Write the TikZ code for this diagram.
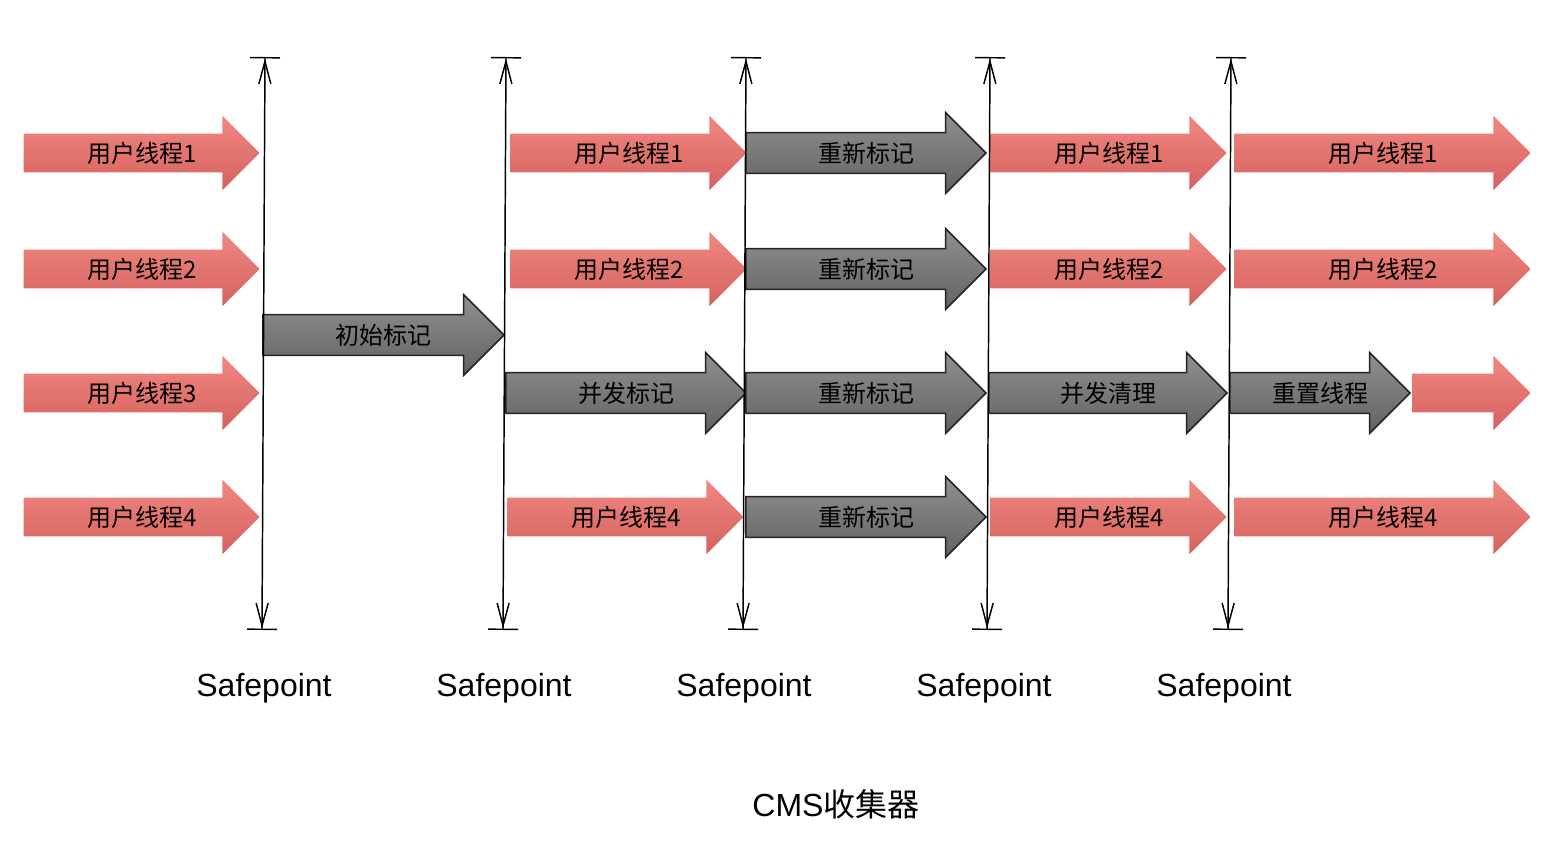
\documentclass[tikz,border=0pt]{standalone}
\usepackage{fontspec}
\setmainfont{Liberation Sans}
\newfontfamily\cjk{Noto Sans CJK SC}
\usetikzlibrary{shapes.arrows,arrows.meta}

\definecolor{threadtop}{RGB}{241,134,128}
\definecolor{threadbot}{RGB}{212,99,94}
\definecolor{gctop}{RGB}{144,144,144}
\definecolor{gcbot}{RGB}{98,98,98}
\definecolor{gcline}{RGB}{36,36,36}

\tikzset{
    thread/.style={single arrow,anchor=tip,top color=threadtop,bottom color=threadbot,
        inner xsep=0pt,inner ysep=0pt,text height=21.05pt,text depth=7.45pt,
        single arrow head extend=13.5pt,minimum height=#1,
        execute at begin node={\hspace*{15pt}},
        font=\cjk\fontsize{18pt}{22pt}\selectfont},
    thread/.default=177pt,
    gcphase/.style={single arrow,anchor=tip,draw=gcline,line width=1.1pt,
        top color=gctop,bottom color=gcbot,
        inner xsep=0pt,inner ysep=0pt,text height=21.5pt,text depth=7.9pt,
        single arrow head extend=15pt,minimum height=#1,
        execute at begin node={\hspace*{16pt}},
        font=\cjk\fontsize{18pt}{22pt}\selectfont},
    gcphase/.default=180pt,
    safeline/.style={line width=1.1pt,
        {Bar[width=22.5pt]Straight Barb[length=17pt,width=9pt]}-{Straight Barb[length=17pt,width=9pt]Bar[width=22.5pt]}},
    safelabel/.style={font=\fontsize{24pt}{28pt}\selectfont},
}

\begin{document}
\begin{tikzpicture}[x=0.75pt,y=-0.75pt]
    \useasboundingbox (0,0) rectangle (1560,852);
    % user threads before the first safepoint
    \node[thread] (t11) at (260,153) {用户线程1};
    \node[thread] (t12) at (260,269) {用户线程2};
    \node[thread] (t13) at (260,393) {用户线程3};
    \node[thread] (t14) at (260,517) {用户线程4};
    \node[gcphase=180.75pt] (init) at (505,335) {初始标记};
    % concurrent mark
    \node[thread] (t21) at (747,153) {用户线程1};
    \node[thread] (t22) at (747,269) {用户线程2};
    \node[gcphase] (cmark) at (747,393) {并发标记};
    \node[thread] (t24) at (744,517) {用户线程4};
    % remark
    \node[gcphase] (remark1) at (987,153) {重新标记};
    \node[gcphase] (remark2) at (987,269) {重新标记};
    \node[gcphase] (remark3) at (987,393) {重新标记};
    \node[gcphase] (remark4) at (987,517) {重新标记};
    % concurrent sweep
    \node[thread] (t41) at (1227,153) {用户线程1};
    \node[thread] (t42) at (1227,269) {用户线程2};
    \node[gcphase=178.5pt] (sweep) at (1228,393) {并发清理};
    \node[thread] (t44) at (1227,517) {用户线程4};
    % reset
    \node[thread=222pt] (t51) at (1531,153) {用户线程1};
    \node[thread=222pt] (t52) at (1531,269) {用户线程2};
    \node[gcphase=135pt] (reset) at (1411,393) {重置线程};
    \node[thread=88.5pt] (t53) at (1531,393) {};
    \node[thread=222pt] (t54) at (1531,517) {用户线程4};
    % safepoints
    \foreach \i/\xt/\xb/\xl in {1/265/262/264,2/506/503/504,3/746/743/744,4/990/987/984,5/1231/1228/1224}{
        \coordinate (sp\i t) at (\xt,57);
        \coordinate (sp\i b) at (\xb,630);
        \draw[safeline] (sp\i t) -- (sp\i b);
        \node[safelabel] (sp\i) at (\xl,688) {Safepoint};
    }
    \node[safelabel] (title) at (836,804) {CMS{\cjk 收集器}};
\end{tikzpicture}
\end{document}
